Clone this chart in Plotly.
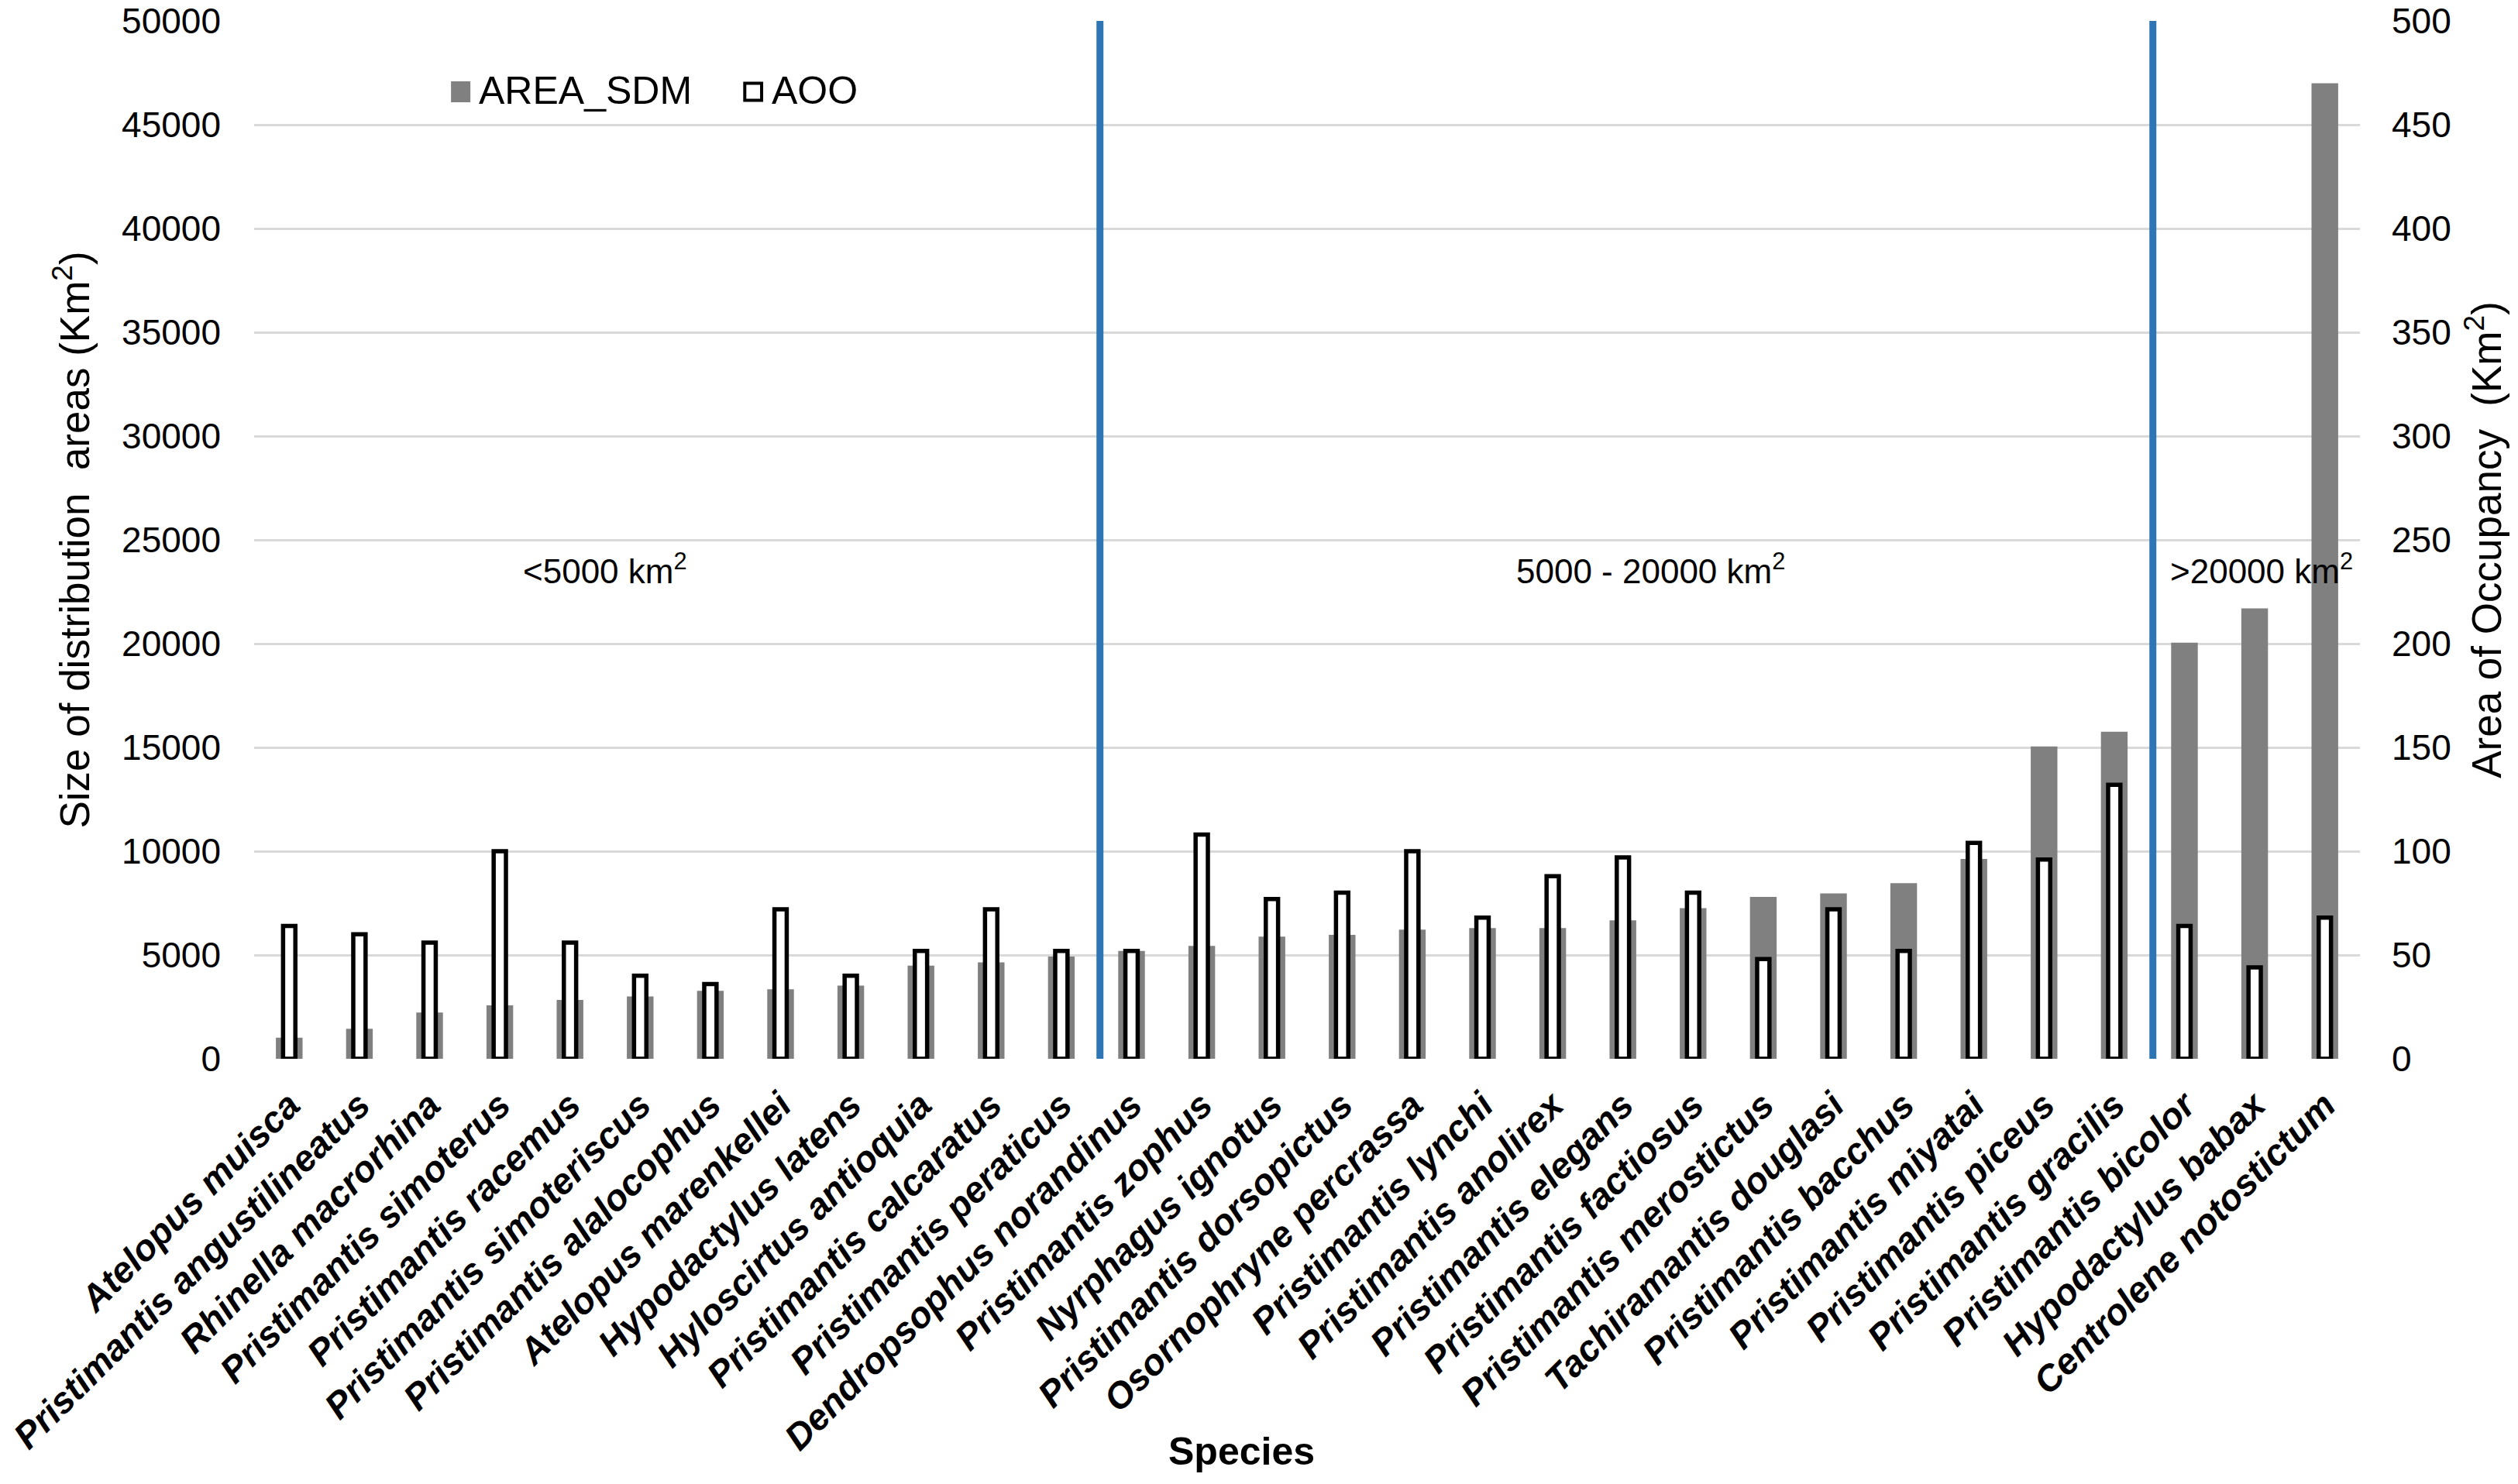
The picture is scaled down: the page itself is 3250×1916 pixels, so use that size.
import plotly.graph_objects as go

species = [
    "Atelopus muisca", "Pristimantis angustilineatus", "Rhinella macrorhina",
    "Pristimantis simoterus", "Pristimantis racemus", "Pristimantis simoteriscus",
    "Pristimantis alalocophus", "Atelopus marenkellei", "Hypodactylus latens",
    "Hyloscirtus antioquia", "Pristimantis calcaratus", "Pristimantis peraticus",
    "Dendropsophus norandinus", "Pristimantis zophus", "Nyrphagus ignotus",
    "Pristimantis dorsopictus", "Osornophryne percrassa", "Pristimantis lynchi",
    "Pristimantis anolirex", "Pristimantis elegans", "Pristimantis factiosus",
    "Pristimantis merostictus", "Tachiramantis douglasi", "Pristimantis bacchus",
    "Pristimantis miyatai", "Pristimantis piceus", "Pristimantis gracilis",
    "Pristimantis bicolor", "Hypodactylus babax", "Centrolene notostictum",
]
area_sdm = [1020, 1450, 2230, 2570, 2840, 3000, 3270, 3350, 3530, 4490,
            4650, 4930, 5200, 5440, 5890, 5970, 6220, 6300, 6300, 6670,
            7260, 7800, 7970, 8460, 9630, 15050, 15760, 20050, 21700, 47000]
aoo = [64, 60, 56, 100, 56, 40, 36, 72, 40, 52,
       72, 52, 52, 108, 77, 80, 100, 68, 88, 97,
       80, 48, 72, 52, 104, 96, 132, 64, 44, 68]

group_labels = ["<5000 km<sup>2</sup>", "5000 - 20000 km<sup>2</sup>", ">20000 km<sup>2</sup>"]
group_start = [0, 12, 27]          # index of first species in each group
group_label_x = [4.5, 19.4, 28.1]  # label placement (category units)
group_label_y = 23600

left_ticks = list(range(0, 50001, 5000))
right_ticks = list(range(0, 501, 50))

FONT = "Liberation Sans, Arial, sans-serif"
xs = list(range(len(species)))

# figure geometry (px); page body adds an 8px offset
W, H = 3234, 1900
L, R, T, B = 320, 196, 19, 541
plot_h = H - T - B

fig = go.Figure()
fig.add_trace(go.Bar(
    x=xs, y=area_sdm, name="AREA_SDM", width=0.38,
    marker=dict(color="#808080", line=dict(width=0)),
    yaxis="y", showlegend=False,
))
fig.add_trace(go.Bar(
    x=xs, y=aoo, name="AOO", width=0.175,
    marker=dict(color="#FFFFFF", line=dict(color="#000000", width=5.5)),
    yaxis="y2", showlegend=False,
))

shapes = []
for s in group_start[1:]:
    shapes.append(dict(type="line", xref="x", yref="y", x0=s - 0.45, x1=s - 0.45,
                       y0=0, y1=left_ticks[-1],
                       line=dict(color="#2E75B6", width=9), layer="above"))
# legend squares
shapes.append(dict(type="rect", xref="paper", yref="paper",
                   x0=0.0935, x1=0.1027, y0=0.9216, y1=0.9418,
                   fillcolor="#808080", line=dict(width=0)))
shapes.append(dict(type="rect", xref="paper", yref="paper",
                   x0=0.2330, x1=0.2410, y0=0.9235, y1=0.9400,
                   fillcolor="#FFFFFF", line=dict(color="#000000", width=4)))

annotations = []
for lab, gx in zip(group_labels, group_label_x):
    annotations.append(dict(text=lab, x=gx, y=group_label_y, xref="x", yref="y",
                            showarrow=False, font=dict(family=FONT, size=44, color="#000")))
annotations.append(dict(text="AREA_SDM", x=0.1060, y=0.933, xref="paper", yref="paper",
                        xanchor="left", yanchor="middle", showarrow=False,
                        font=dict(family=FONT, size=50, color="#000")))
annotations.append(dict(text="AOO", x=0.2450, y=0.933, xref="paper", yref="paper",
                        xanchor="left", yanchor="middle", showarrow=False,
                        font=dict(family=FONT, size=50, color="#000")))
annotations.append(dict(text="<b>Species</b>", x=0.469, y=(H - B - 1866) / plot_h,
                        xref="paper", yref="paper", yanchor="middle",
                        showarrow=False, font=dict(family=FONT, size=50, color="#000")))

fig.update_layout(
    width=W, height=H,
    margin=dict(l=L, r=R, t=T, b=B, autoexpand=False),
    paper_bgcolor="white", plot_bgcolor="white",
    barmode="overlay",
    shapes=shapes,
    annotations=annotations,
    xaxis=dict(
        tickmode="array", tickvals=xs, ticktext=species,
        tickangle=-45, range=[-0.5, len(species) - 0.5],
        tickfont=dict(family=FONT, size=47, color="#000", weight="bold", style="italic"),
        showgrid=False, zeroline=False, showline=False, ticks="",
        ticklabelstandoff=22, automargin=False, ticklabeloverflow="allow",
    ),
    yaxis=dict(
        range=[0, 50000], tickmode="array", tickvals=left_ticks,
        ticktext=[str(v) for v in left_ticks],
        tickfont=dict(family=FONT, size=46, color="#000"),
        showgrid=True, gridcolor="#D9D9D9", gridwidth=3,
        zeroline=False, showline=False, ticks="",
        ticklabelstandoff=42, automargin=False, ticklabeloverflow="allow",
        title=dict(text="Size of distribution\u00a0 areas (Km<sup>2</sup>)",
                   font=dict(family=FONT, size=53, color="#000"), standoff=24),
    ),
    yaxis2=dict(
        range=[0, 500], tickmode="array", tickvals=right_ticks,
        ticktext=[str(v) for v in right_ticks],
        overlaying="y", side="right",
        tickfont=dict(family=FONT, size=46, color="#000"),
        showgrid=False, zeroline=False, showline=False, ticks="",
        ticklabelstandoff=40, automargin=False, ticklabeloverflow="allow",
        title=dict(text="Area of Occupancy\u00a0 (Km<sup>2</sup>)",
                   font=dict(family=FONT, size=53, color="#000"), standoff=28),
    ),
)

fig.write_html("out.html")
